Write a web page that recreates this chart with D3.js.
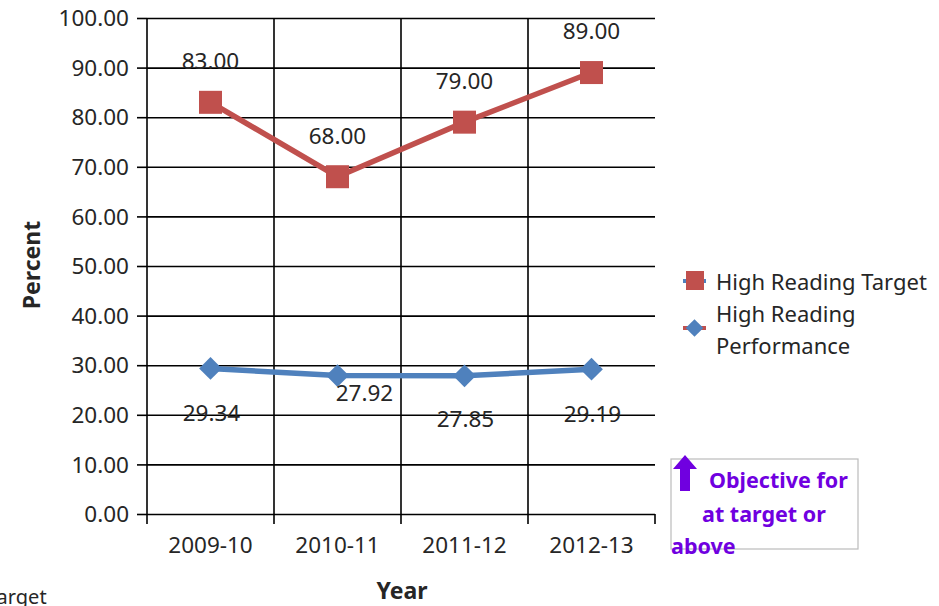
<!DOCTYPE html>
<html>
<head>
<meta charset="utf-8">
<title>High Reading</title>
<script src="https://cdn.jsdelivr.net/npm/d3@7"></script>
<style>
  body { margin: 0; background: #fff; }
  svg text { font-family: "Noto Sans", sans-serif; fill: #262626; }
</style>
</head>
<body>
<svg id="chart" width="939" height="606"></svg>
<script>
// data
const years = ["2009-10", "2010-11", "2011-12", "2012-13"];
const target = [83.00, 68.00, 79.00, 89.00];
const performance = [29.34, 27.92, 27.85, 29.19];
const yTicks = [0, 10, 20, 30, 40, 50, 60, 70, 80, 90, 100];
// label nudges (dx, dy) from each point
const targetLabelOff = [[0, -41], [0, -41], [0, -41], [0, -41]];
const perfLabelOff = [[1, 45], [27, 18], [1, 43], [1, 45]];

const red = "#C0504D", blue = "#4F81BD";
const m = { left: 147, right: 655, top: 18, bottom: 514 };

const svg = d3.select("#chart");

const x = d3.scaleBand().domain(years).range([m.left, m.right]);
const y = d3.scaleLinear().domain([0, 100]).range([m.bottom, m.top]);
const cx = d => x(d) + x.bandwidth() / 2;

// horizontal gridlines + y axis
const yAxis = d3.axisLeft(y).tickValues(yTicks).tickFormat(d3.format(".2f"))
  .tickSize(10).tickPadding(8);
const gy = svg.append("g").attr("transform", `translate(${m.left},0)`).call(yAxis);
gy.select(".domain").remove();
gy.selectAll(".tick line").attr("stroke", "#000").attr("stroke-width", 1.6)
  .attr("x2", -10);
gy.selectAll(".tick").append("line")
  .attr("x1", 0).attr("x2", m.right - m.left)
  .attr("stroke", "#000").attr("stroke-width", 1.6);
gy.selectAll(".tick text").style("font-size", "22.5px").attr("dy", "0.34em");

// vertical lines at category boundaries
const bounds = years.map(d => x(d)).concat([m.right]);
svg.append("g").selectAll("line").data(bounds).join("line")
  .attr("x1", d => d).attr("x2", d => d)
  .attr("y1", (d, i) => i === bounds.length - 1 ? m.bottom : m.top)
  .attr("y2", m.bottom + 10)
  .attr("stroke", "#000").attr("stroke-width", 1.6);

// x labels
svg.append("g").selectAll("text").data(years).join("text")
  .attr("x", d => cx(d)).attr("y", 553)
  .attr("text-anchor", "middle").style("font-size", "22.5px").text(d => d);

// target line
const line = d3.line().x((d, i) => cx(years[i])).y(d => y(d));
svg.append("path").datum(target).attr("d", line)
  .attr("fill", "none").attr("stroke", red).attr("stroke-width", 5.5);
svg.append("g").selectAll("rect").data(target).join("rect")
  .attr("x", (d, i) => cx(years[i]) - 11.5).attr("y", d => y(d) - 11.5)
  .attr("width", 23).attr("height", 23).attr("fill", red);

// performance line
svg.append("path").datum(performance).attr("d", line)
  .attr("fill", "none").attr("stroke", blue).attr("stroke-width", 5.5);
const diamond = d3.symbol().type(d3.symbolDiamond2).size(330);
svg.append("g").selectAll("path").data(performance).join("path")
  .attr("d", diamond)
  .attr("transform", (d, i) => `translate(${cx(years[i])},${y(d)})`)
  .attr("fill", blue);

// data labels
svg.append("g").selectAll("text").data(target).join("text")
  .attr("x", (d, i) => cx(years[i]) + targetLabelOff[i][0])
  .attr("y", (d, i) => y(d) + targetLabelOff[i][1])
  .attr("dy", "0.35em").attr("text-anchor", "middle")
  .style("font-size", "22.5px").text(d => d.toFixed(2));
svg.append("g").selectAll("text").data(performance).join("text")
  .attr("x", (d, i) => cx(years[i]) + perfLabelOff[i][0])
  .attr("y", (d, i) => y(d) + perfLabelOff[i][1])
  .attr("dy", "0.35em").attr("text-anchor", "middle")
  .style("font-size", "22.5px").text(d => d.toFixed(2));

// axis titles
svg.append("text").attr("x", 402).attr("y", 599).attr("text-anchor", "middle")
  .style("font-size", "23px").style("font-weight", "bold").text("Year");
svg.append("text").attr("transform", "translate(40,265) rotate(-90)")
  .attr("text-anchor", "middle")
  .style("font-size", "23px").style("font-weight", "bold").text("Percent");

// stray text, cut off at the left edge as in the original
svg.append("text").attr("x", -13).attr("y", 604).style("font-size", "20px").text("Target");

// legend (marker/line colours swapped as in the original)
const lg = svg.append("g");
lg.append("line").attr("x1", 683).attr("x2", 706).attr("y1", 281).attr("y2", 281)
  .attr("stroke", blue).attr("stroke-width", 4);
lg.append("rect").attr("x", 686).attr("y", 271).attr("width", 18).attr("height", 19).attr("fill", red);
lg.append("text").attr("x", 716).attr("y", 290).style("font-size", "22px").text("High Reading Target");
lg.append("line").attr("x1", 683).attr("x2", 706).attr("y1", 328).attr("y2", 328)
  .attr("stroke", red).attr("stroke-width", 4);
lg.append("path").attr("d", d3.symbol().type(d3.symbolDiamond2).size(200))
  .attr("transform", "translate(694.5,328)").attr("fill", blue);
lg.append("text").attr("x", 716).attr("y", 322).style("font-size", "22px").text("High Reading");
lg.append("text").attr("x", 716).attr("y", 354).style("font-size", "22px").text("Performance");

// objective note
const purple = "#7000E0";
const ob = svg.append("g");
ob.append("rect").attr("x", 671).attr("y", 459).attr("width", 187).attr("height", 90)
  .attr("fill", "none").attr("stroke", "#bbb").attr("stroke-width", 1.2);
ob.append("path")
  .attr("d", "M685,455 L697,469 L690,469 L690,491 L680,491 L680,469 L673,469 Z")
  .attr("fill", purple);
ob.selectAll("text").data([
  ["Objective for", 709, 488],
  ["at target or", 702, 522],
  ["above", 671, 554]
]).join("text")
  .attr("x", d => d[1]).attr("y", d => d[2])
  .style("font-size", "21.5px").style("font-weight", "bold").style("fill", purple)
  .text(d => d[0]);
</script>
</body>
</html>
